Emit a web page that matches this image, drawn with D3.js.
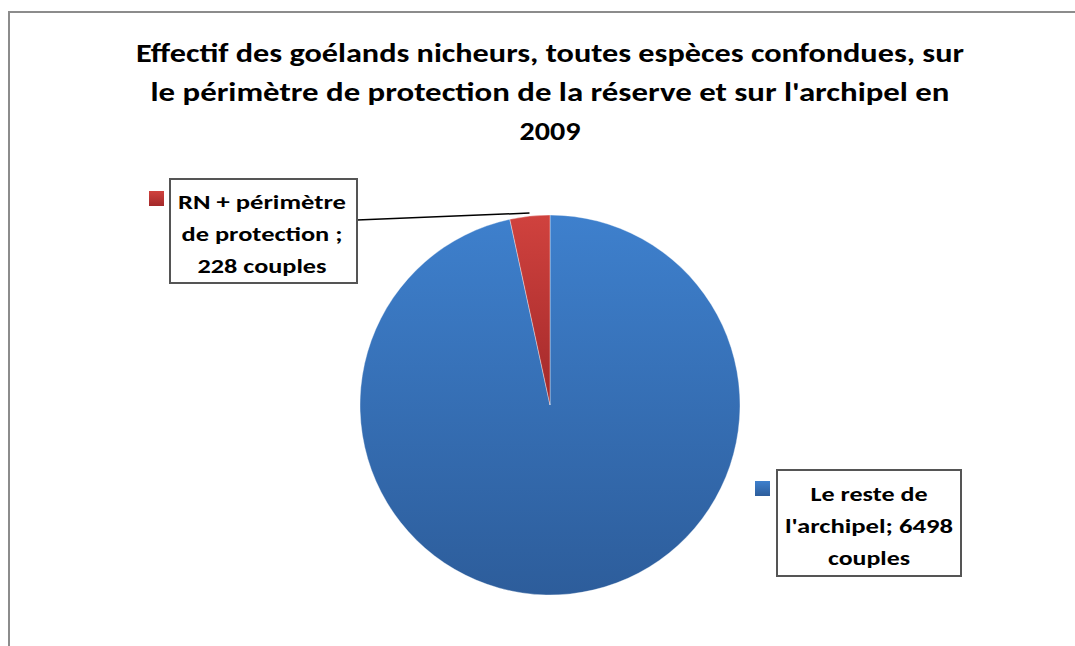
<!DOCTYPE html>
<html>
<head>
<meta charset="utf-8">
<script src="https://cdn.jsdelivr.net/npm/d3@7"></script>
<style>
  body { margin: 0; background: #fff; }
  text { font-family: Carlito, Calibri, "Open Sans", sans-serif; font-weight: bold; fill: #000; }
</style>
</head>
<body>
<div id="chart"></div>
<script>
// data
var titleLines = [
  "Effectif des goélands nicheurs, toutes espèces confondues, sur",
  "le périmètre de protection de la réserve et sur l'archipel en",
  "2009"
];
var categories = ["Le reste de l'archipel", "RN + périmètre de protection"];
var values = [6498, 228];
var labelLines = [
  ["Le reste de", "l'archipel; " + values[0], "couples"],
  ["RN + périmètre", "de protection ;", values[1] + " couples"]
];
var sliceTop = ["#3e80cd", "#d0423e"];
var sliceBottom = ["#2d5d9b", "#a3292a"];

var W = 1075, H = 646;
var cx = 550, cy = 405, r = 190;

var svg = d3.select("#chart")
  .append("svg")
  .attr("width", W)
  .attr("height", H);

// chart frame (runs off the right and bottom edges)
svg.append("rect")
  .attr("x", 9).attr("y", 12)
  .attr("width", W + 20).attr("height", H + 20)
  .attr("fill", "#fff")
  .attr("stroke", "#8c8c8c")
  .attr("stroke-width", 2);

// title
var titleW = [828, 799, 61];
svg.append("g").selectAll("text")
  .data(titleLines)
  .enter().append("text")
  .attr("x", 550)
  .attr("y", function(d, i) { return 62 + i * 39; })
  .attr("text-anchor", "middle")
  .style("font-size", "27px")
  .attr("textLength", function(d, i) { return titleW[i]; })
  .attr("lengthAdjust", "spacingAndGlyphs")
  .text(function(d) { return d; });

// gradients
var defs = svg.append("defs");
categories.forEach(function(c, i) {
  var g = defs.append("linearGradient")
    .attr("id", "grad" + i)
    .attr("x1", 0).attr("y1", 0).attr("x2", 0).attr("y2", 1);
  g.append("stop").attr("offset", "0%").attr("stop-color", sliceTop[i]);
  g.append("stop").attr("offset", "100%").attr("stop-color", sliceBottom[i]);
});

// pie
var pie = d3.pie().sort(null).value(function(d) { return d; });
var arcs = pie(values);
var arc = d3.arc().innerRadius(0).outerRadius(r);

var pieG = svg.append("g").attr("transform", "translate(" + cx + "," + cy + ")");
pieG.selectAll("path")
  .data(arcs)
  .enter().append("path")
  .attr("d", arc)
  .attr("fill", function(d, i) { return "url(#grad" + i + ")"; })
  .attr("stroke", "rgba(255,255,255,0.45)")
  .attr("stroke-width", 0.8);

// data labels with legend keys
var boxes = [
  {x: 777, y: 470, w: 184, h: 106, tx: 869, ty: 501, key: [755, 481], lw: [117, 168, 82]},
  {x: 170, y: 179, w: 187, h: 104, tx: 262, ty: 209, key: [149, 191], lw: [168, 161, 129]}
];

// leader line for the small slice
var outer = d3.arc().innerRadius(r + 3).outerRadius(r + 3);
var p = outer.centroid(arcs[1]);
svg.append("line")
  .attr("x1", boxes[1].x + boxes[1].w).attr("y1", 220)
  .attr("x2", cx + p[0]).attr("y2", cy + p[1])
  .attr("stroke", "#000")
  .attr("stroke-width", 1.5);

boxes.forEach(function(b, i) {
  svg.append("rect")
    .attr("x", b.x).attr("y", b.y)
    .attr("width", b.w).attr("height", b.h)
    .attr("fill", "#fff")
    .attr("stroke", "#555")
    .attr("stroke-width", 2);
  svg.append("rect")
    .attr("x", b.key[0]).attr("y", b.key[1])
    .attr("width", 15).attr("height", 15)
    .attr("fill", "url(#grad" + i + ")");
  svg.append("g").selectAll("text")
    .data(labelLines[i])
    .enter().append("text")
    .attr("x", b.tx)
    .attr("y", function(d, j) { return b.ty + j * 32; })
    .attr("text-anchor", "middle")
    .style("font-size", "20px")
    .attr("textLength", function(d, j) { return b.lw[j]; })
    .attr("lengthAdjust", "spacingAndGlyphs")
    .text(function(d) { return d; });
});
</script>
</body>
</html>
